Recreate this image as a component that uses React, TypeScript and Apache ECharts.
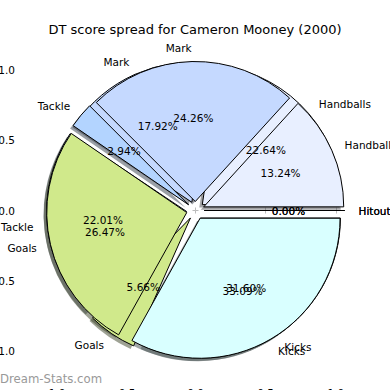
import React, { useEffect, useRef } from 'react';
import * as echarts from 'echarts';

const titleText = 'DT score spread for Cameron Mooney (2000)';
const watermark = 'Dream-Stats.com';
const categories = ['Handballs', 'Mark', 'Tackle', 'Goals', 'Kicks', 'Hitout'];
// upper pie (drawn on top)
const pctTop = [13.24, 24.26, 2.94, 26.47, 33.09, 0.0];
// lower pie (drawn underneath)
const pctUnder = [22.64, 17.92, 22.01, 5.66, 31.6, 0.0];
const sliceColors = ['#e8efff', '#c5d9ff', '#b3d4ff', '#d0e98b', '#d9ffff', '#ffe0b0'];
const axisTicks = [-1, -0.5, 0, 0.5, 1];

const FONT = 'DejaVu Sans';
const CX = 195.5;
const CY = 210.5;
const R = 140;
const EXPLODE = 9;

function shadowOf(hex: string): string {
  const n = parseInt(hex.slice(1), 16);
  const r = Math.round(((n >> 16) & 255) * 0.3);
  const g = Math.round(((n >> 8) & 255) * 0.3);
  const b = Math.round((n & 255) * 0.3);
  return `rgba(${r},${g},${b},0.5)`;
}

function pieBase(values: number[], center: number[], radius: number) {
  return {
    type: 'pie',
    center,
    radius,
    startAngle: 0,
    clockwise: false,
    selectedMode: 'multiple',
    selectedOffset: EXPLODE,
    avoidLabelOverlap: false,
    labelLayout: { hideOverlap: false, moveOverlap: null },
    silent: true,
    emphasis: { disabled: true },
    minAngle: 0,
    data: categories.map((c, i) => ({ name: c, value: values[i], selected: true })),
  };
}

function shadowSeries(values: number[]) {
  const s: any = pieBase(values, [CX - 3, CY + 3], R);
  s.data = s.data.map((d: any, i: number) => ({ ...d, itemStyle: { color: shadowOf(sliceColors[i]), borderWidth: 0 } }));
  s.label = { show: false };
  s.labelLine = { show: false };
  return s;
}

function mainSeries(values: number[]) {
  const s: any = pieBase(values, [CX, CY], R);
  s.data = s.data.map((d: any, i: number) => ({ ...d, itemStyle: { color: sliceColors[i], borderColor: '#000', borderWidth: 1 } }));
  s.label = {
    show: true,
    position: 'outside',
    formatter: '{b}',
    fontFamily: FONT,
    fontSize: 10.5,
    color: '#000',
    distanceToLabelLine: 0,
    overflow: 'none',
    verticalAlign: 'middle',
  };
  s.labelLine = { show: false, length: 14, length2: 0 };
  return s;
}

function pctSeries(values: number[]) {
  const s: any = pieBase(values, [CX, CY], 162);
  s.z = 5;
  s.data = s.data.map((d: any) => ({ ...d, itemStyle: { color: 'rgba(0,0,0,0)', borderWidth: 0 } }));
  s.label = {
    show: true,
    position: 'inner',
    formatter: (p: any) => `${Number(p.value).toFixed(2)}%`,
    fontFamily: FONT,
    fontSize: 10.5,
    color: '#000',
    overflow: 'none',
  };
  s.labelLine = { show: false };
  return s;
}

function axisCommon(position: string, showLabel: boolean, isX: boolean) {
  return {
    type: 'value',
    min: -1.25,
    max: 1.25,
    position,
    axisLine: { show: false },
    splitLine: { show: false },
    axisTick: { show: true, inside: true, length: 3, lineStyle: { color: '#bbbbbb', width: 1 }, customValues: axisTicks },
    axisLabel: {
      show: showLabel,
      customValues: axisTicks,
      formatter: (v: number) => v.toFixed(1),
      fontFamily: FONT,
      fontSize: 10.5,
      color: '#000',
      margin: isX ? 1 : 5,
    },
  };
}

export default function App() {
  const ref = useRef<HTMLDivElement>(null);
  useEffect(() => {
    document.body.style.margin = '0';
    const chart = echarts.init(ref.current!, undefined, { renderer: 'svg' });
    chart.setOption({
      animation: false,
      backgroundColor: '#fff',
      title: {
        text: titleText,
        left: 'center',
        top: 18,
        textStyle: { fontFamily: FONT, fontSize: 13, fontWeight: 'normal', color: '#000' },
      },
      grid: { left: 20, right: 19, top: 35, bottom: 4, containLabel: false, outerBoundsMode: 'none' },
      xAxis: [axisCommon('bottom', true, true), axisCommon('top', false, true)],
      yAxis: [axisCommon('left', true, false), axisCommon('right', false, false)],
      graphic: [
        {
          type: 'text',
          left: 0,
          top: 373,
          style: { text: watermark, fontFamily: FONT, fontSize: 11.7, fill: '#999' },
        },
      ],
      series: [
        shadowSeries(pctUnder),
        shadowSeries(pctTop),
        mainSeries(pctUnder),
        mainSeries(pctTop),
        pctSeries(pctUnder),
        pctSeries(pctTop),
      ],
    });
    return () => chart.dispose();
  }, []);
  return <div ref={ref} style={{ width: 390, height: 390 }} />;
}
